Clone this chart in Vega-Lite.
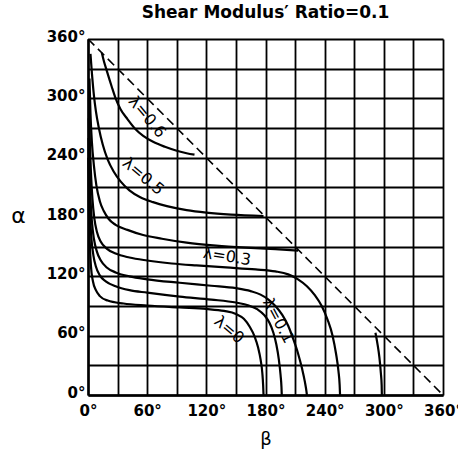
{
  "$schema": "https://vega.github.io/schema/vega-lite/v6.json",
  "width": 355,
  "height": 356,
  "autosize": {"type": "none"},
  "padding": {"left": 88, "top": 39, "right": 15, "bottom": 64},
  "background": "white",
  "title": {"text": "Shear Modulus′ Ratio=0.1", "fontSize": 17, "font": "DejaVu Sans", "fontWeight": "bold", "color": "black", "offset": 7, "anchor": "middle"},
  "config": {"view": {"stroke": null}},
  "resolve": {"axis": {"x": "independent", "y": "independent"}},
  "datasets": {
    "curves": [
      {"curve": "λ=0.6", "beta": 14, "alpha": 346}, {"curve": "λ=0.6", "beta": 16, "alpha": 338}, {"curve": "λ=0.6", "beta": 19, "alpha": 328}, {"curve": "λ=0.6", "beta": 24, "alpha": 312}, {"curve": "λ=0.6", "beta": 28, "alpha": 300}, {"curve": "λ=0.6", "beta": 33, "alpha": 289}, {"curve": "λ=0.6", "beta": 40, "alpha": 279}, {"curve": "λ=0.6", "beta": 48, "alpha": 269}, {"curve": "λ=0.6", "beta": 56, "alpha": 262}, {"curve": "λ=0.6", "beta": 66, "alpha": 256}, {"curve": "λ=0.6", "beta": 78, "alpha": 251}, {"curve": "λ=0.6", "beta": 90, "alpha": 247}, {"curve": "λ=0.6", "beta": 100, "alpha": 244.5}, {"curve": "λ=0.6", "beta": 108, "alpha": 243},
      {"curve": "λ=0.5", "beta": 2.5, "alpha": 345}, {"curve": "λ=0.5", "beta": 4, "alpha": 325}, {"curve": "λ=0.5", "beta": 6, "alpha": 303}, {"curve": "λ=0.5", "beta": 8, "alpha": 287}, {"curve": "λ=0.5", "beta": 11, "alpha": 270}, {"curve": "λ=0.5", "beta": 15, "alpha": 253}, {"curve": "λ=0.5", "beta": 20, "alpha": 238}, {"curve": "λ=0.5", "beta": 26, "alpha": 226}, {"curve": "λ=0.5", "beta": 33, "alpha": 216}, {"curve": "λ=0.5", "beta": 42, "alpha": 207}, {"curve": "λ=0.5", "beta": 53, "alpha": 200}, {"curve": "λ=0.5", "beta": 66, "alpha": 195}, {"curve": "λ=0.5", "beta": 80, "alpha": 191}, {"curve": "λ=0.5", "beta": 100, "alpha": 187}, {"curve": "λ=0.5", "beta": 120, "alpha": 184.5}, {"curve": "λ=0.5", "beta": 145, "alpha": 182.5}, {"curve": "λ=0.5", "beta": 178, "alpha": 181},
      {"curve": "λ=0.4", "beta": 1.5, "alpha": 320}, {"curve": "λ=0.4", "beta": 2.5, "alpha": 285}, {"curve": "λ=0.4", "beta": 4, "alpha": 255}, {"curve": "λ=0.4", "beta": 6, "alpha": 232}, {"curve": "λ=0.4", "beta": 8.5, "alpha": 212}, {"curve": "λ=0.4", "beta": 12, "alpha": 196}, {"curve": "λ=0.4", "beta": 16, "alpha": 186}, {"curve": "λ=0.4", "beta": 21, "alpha": 178}, {"curve": "λ=0.4", "beta": 28, "alpha": 172}, {"curve": "λ=0.4", "beta": 40, "alpha": 167}, {"curve": "λ=0.4", "beta": 55, "alpha": 162}, {"curve": "λ=0.4", "beta": 75, "alpha": 158}, {"curve": "λ=0.4", "beta": 100, "alpha": 154}, {"curve": "λ=0.4", "beta": 130, "alpha": 151}, {"curve": "λ=0.4", "beta": 160, "alpha": 149}, {"curve": "λ=0.4", "beta": 190, "alpha": 147.5}, {"curve": "λ=0.4", "beta": 213, "alpha": 146},
      {"curve": "λ=0.4b", "beta": 291.5, "alpha": 63}, {"curve": "λ=0.4b", "beta": 293.5, "alpha": 52}, {"curve": "λ=0.4b", "beta": 295.5, "alpha": 38}, {"curve": "λ=0.4b", "beta": 297, "alpha": 22}, {"curve": "λ=0.4b", "beta": 297.8, "alpha": 10}, {"curve": "λ=0.4b", "beta": 298, "alpha": 0},
      {"curve": "λ=0.3", "beta": 1, "alpha": 300}, {"curve": "λ=0.3", "beta": 1.8, "alpha": 260}, {"curve": "λ=0.3", "beta": 3, "alpha": 225}, {"curve": "λ=0.3", "beta": 4.5, "alpha": 198}, {"curve": "λ=0.3", "beta": 6.5, "alpha": 178}, {"curve": "λ=0.3", "beta": 9, "alpha": 165}, {"curve": "λ=0.3", "beta": 13, "alpha": 155}, {"curve": "λ=0.3", "beta": 19, "alpha": 148}, {"curve": "λ=0.3", "beta": 28, "alpha": 143}, {"curve": "λ=0.3", "beta": 42, "alpha": 139}, {"curve": "λ=0.3", "beta": 60, "alpha": 136}, {"curve": "λ=0.3", "beta": 85, "alpha": 133}, {"curve": "λ=0.3", "beta": 110, "alpha": 131}, {"curve": "λ=0.3", "beta": 140, "alpha": 129}, {"curve": "λ=0.3", "beta": 170, "alpha": 127}, {"curve": "λ=0.3", "beta": 190, "alpha": 125}, {"curve": "λ=0.3", "beta": 203, "alpha": 122}, {"curve": "λ=0.3", "beta": 213, "alpha": 117}, {"curve": "λ=0.3", "beta": 222, "alpha": 110}, {"curve": "λ=0.3", "beta": 230, "alpha": 101}, {"curve": "λ=0.3", "beta": 237, "alpha": 90}, {"curve": "λ=0.3", "beta": 243, "alpha": 76}, {"curve": "λ=0.3", "beta": 248, "alpha": 60}, {"curve": "λ=0.3", "beta": 251.5, "alpha": 42}, {"curve": "λ=0.3", "beta": 254, "alpha": 24}, {"curve": "λ=0.3", "beta": 255.2, "alpha": 10}, {"curve": "λ=0.3", "beta": 255.6, "alpha": 0},
      {"curve": "λ=0.2", "beta": 0.8, "alpha": 280}, {"curve": "λ=0.2", "beta": 1.5, "alpha": 235}, {"curve": "λ=0.2", "beta": 2.5, "alpha": 200}, {"curve": "λ=0.2", "beta": 4, "alpha": 175}, {"curve": "λ=0.2", "beta": 6, "alpha": 158}, {"curve": "λ=0.2", "beta": 9, "alpha": 145}, {"curve": "λ=0.2", "beta": 13, "alpha": 136}, {"curve": "λ=0.2", "beta": 19, "alpha": 129}, {"curve": "λ=0.2", "beta": 28, "alpha": 124}, {"curve": "λ=0.2", "beta": 42, "alpha": 120}, {"curve": "λ=0.2", "beta": 60, "alpha": 117}, {"curve": "λ=0.2", "beta": 93, "alpha": 113.5}, {"curve": "λ=0.2", "beta": 125, "alpha": 110.5}, {"curve": "λ=0.2", "beta": 150, "alpha": 108}, {"curve": "λ=0.2", "beta": 165, "alpha": 105}, {"curve": "λ=0.2", "beta": 175, "alpha": 101.5}, {"curve": "λ=0.2", "beta": 183, "alpha": 96.5}, {"curve": "λ=0.2", "beta": 190, "alpha": 90}, {"curve": "λ=0.2", "beta": 197, "alpha": 81}, {"curve": "λ=0.2", "beta": 203, "alpha": 70}, {"curve": "λ=0.2", "beta": 208, "alpha": 57}, {"curve": "λ=0.2", "beta": 213, "alpha": 42}, {"curve": "λ=0.2", "beta": 217, "alpha": 27}, {"curve": "λ=0.2", "beta": 220, "alpha": 13}, {"curve": "λ=0.2", "beta": 221.5, "alpha": 4}, {"curve": "λ=0.2", "beta": 222, "alpha": 0},
      {"curve": "λ=0.1", "beta": 0.6, "alpha": 260}, {"curve": "λ=0.1", "beta": 1.2, "alpha": 215}, {"curve": "λ=0.1", "beta": 2.2, "alpha": 180}, {"curve": "λ=0.1", "beta": 3.5, "alpha": 158}, {"curve": "λ=0.1", "beta": 5.5, "alpha": 141}, {"curve": "λ=0.1", "beta": 8, "alpha": 130}, {"curve": "λ=0.1", "beta": 12, "alpha": 121}, {"curve": "λ=0.1", "beta": 18, "alpha": 115}, {"curve": "λ=0.1", "beta": 28, "alpha": 110}, {"curve": "λ=0.1", "beta": 42, "alpha": 106}, {"curve": "λ=0.1", "beta": 60, "alpha": 103.5}, {"curve": "λ=0.1", "beta": 93, "alpha": 99.5}, {"curve": "λ=0.1", "beta": 125, "alpha": 96.5}, {"curve": "λ=0.1", "beta": 150, "alpha": 93.5}, {"curve": "λ=0.1", "beta": 163, "alpha": 90.5}, {"curve": "λ=0.1", "beta": 172, "alpha": 86.5}, {"curve": "λ=0.1", "beta": 179, "alpha": 80.5}, {"curve": "λ=0.1", "beta": 184, "alpha": 73}, {"curve": "λ=0.1", "beta": 188, "alpha": 63}, {"curve": "λ=0.1", "beta": 191, "alpha": 51}, {"curve": "λ=0.1", "beta": 193.5, "alpha": 36}, {"curve": "λ=0.1", "beta": 195.3, "alpha": 20}, {"curve": "λ=0.1", "beta": 196.2, "alpha": 8}, {"curve": "λ=0.1", "beta": 196.5, "alpha": 0},
      {"curve": "λ=0", "beta": 0.4, "alpha": 240}, {"curve": "λ=0", "beta": 0.9, "alpha": 190}, {"curve": "λ=0", "beta": 1.8, "alpha": 155}, {"curve": "λ=0", "beta": 3, "alpha": 130}, {"curve": "λ=0", "beta": 5, "alpha": 115}, {"curve": "λ=0", "beta": 8, "alpha": 106}, {"curve": "λ=0", "beta": 12, "alpha": 100}, {"curve": "λ=0", "beta": 20, "alpha": 95.5}, {"curve": "λ=0", "beta": 36, "alpha": 92.5}, {"curve": "λ=0", "beta": 60, "alpha": 90.5}, {"curve": "λ=0", "beta": 93, "alpha": 88.5}, {"curve": "λ=0", "beta": 120, "alpha": 87}, {"curve": "λ=0", "beta": 138, "alpha": 85}, {"curve": "λ=0", "beta": 150, "alpha": 82}, {"curve": "λ=0", "beta": 158, "alpha": 77}, {"curve": "λ=0", "beta": 164, "alpha": 69}, {"curve": "λ=0", "beta": 169, "alpha": 59}, {"curve": "λ=0", "beta": 172.5, "alpha": 48}, {"curve": "λ=0", "beta": 175, "alpha": 36}, {"curve": "λ=0", "beta": 176.8, "alpha": 22}, {"curve": "λ=0", "beta": 177.6, "alpha": 10}, {"curve": "λ=0", "beta": 178, "alpha": 0}
    ],
    "diagonal": [{"beta": 0, "alpha": 360}, {"beta": 360, "alpha": 0}],
    "labels": [
      {"text": "λ=0.6", "beta": 60, "alpha": 281},
      {"text": "λ=0.5", "beta": 56, "alpha": 221},
      {"text": "λ=0.3", "beta": 141, "alpha": 140},
      {"text": "λ=0", "beta": 143, "alpha": 66},
      {"text": "λ=0.1", "beta": 193, "alpha": 75}
    ]
  },
  "layer": [
    {
      "data": {"name": "diagonal"},
      "mark": {"type": "line", "color": "black", "strokeWidth": 1.6, "strokeDash": [9, 5]},
      "encoding": {
        "x": {"field": "beta", "type": "quantitative", "scale": {"domain": [0, 360], "nice": false},
          "axis": {"orient": "bottom", "values": [0, 30, 60, 90, 120, 150, 180, 210, 240, 270, 300, 330, 360], "grid": true, "gridColor": "black", "gridWidth": 1.8, "gridOpacity": 1, "domain": false, "ticks": false, "labels": false, "title": null}},
        "y": {"field": "alpha", "type": "quantitative", "scale": {"domain": [0, 360], "nice": false},
          "axis": {"orient": "left", "values": [0, 30, 60, 90, 120, 150, 180, 210, 240, 270, 300, 330, 360], "grid": true, "gridColor": "black", "gridWidth": 1.8, "gridOpacity": 1, "domain": false, "ticks": false, "labels": false, "title": null}}
      }
    },
    {
      "data": {"name": "curves"},
      "mark": {"type": "line", "color": "black", "strokeWidth": 2.2, "interpolate": "monotone"},
      "encoding": {
        "x": {"field": "beta", "type": "quantitative",
          "axis": {"orient": "bottom", "values": [0, 60, 120, 180, 240, 300, 360], "grid": false, "domain": true, "domainColor": "black", "domainWidth": 2.5, "ticks": false, "labelFlush": false, "labelExpr": "datum.value + '°'", "labelFontSize": 15, "labelFont": "DejaVu Sans", "labelFontWeight": "bold", "labelColor": "black", "labelPadding": 8, "labelOverlap": false, "title": "β", "titleFont": "DejaVu Sans", "titleFontSize": 18, "titleFontWeight": "normal", "titleColor": "black", "titleY": 44, "titleBaseline": "middle"}},
        "y": {"field": "alpha", "type": "quantitative",
          "axis": {"orient": "left", "values": [0, 60, 120, 180, 240, 300, 360], "grid": false, "domain": true, "domainColor": "black", "domainWidth": 2.5, "ticks": false, "labelFlush": false, "labelExpr": "datum.value + '°'", "labelFontSize": 15, "labelFont": "DejaVu Sans", "labelFontWeight": "bold", "labelColor": "black", "labelPadding": 3, "labelOverlap": false, "labelOffset": -3, "title": "α", "titleFont": "DejaVu Sans", "titleFontSize": 22, "titleFontWeight": "normal", "titleColor": "black", "titleAngle": 0, "titleX": -70, "titleY": 176, "titleAlign": "center", "titleBaseline": "middle"}},
        "detail": {"field": "curve", "type": "nominal"}
      }
    },
    {
      "data": {"name": "labels"},
      "transform": [{"filter": "datum.text == 'λ=0.6'"}],
      "mark": {"type": "text", "angle": 50, "fontSize": 16, "font": "DejaVu Sans", "color": "black"},
      "encoding": {"x": {"field": "beta", "type": "quantitative", "axis": null}, "y": {"field": "alpha", "type": "quantitative", "axis": null}, "text": {"field": "text"}}
    },
    {
      "data": {"name": "labels"},
      "transform": [{"filter": "datum.text == 'λ=0.5'"}],
      "mark": {"type": "text", "angle": 40, "fontSize": 16, "font": "DejaVu Sans", "color": "black"},
      "encoding": {"x": {"field": "beta", "type": "quantitative", "axis": null}, "y": {"field": "alpha", "type": "quantitative", "axis": null}, "text": {"field": "text"}}
    },
    {
      "data": {"name": "labels"},
      "transform": [{"filter": "datum.text == 'λ=0.3'"}],
      "mark": {"type": "text", "angle": 9, "fontSize": 16, "font": "DejaVu Sans", "color": "black"},
      "encoding": {"x": {"field": "beta", "type": "quantitative", "axis": null}, "y": {"field": "alpha", "type": "quantitative", "axis": null}, "text": {"field": "text"}}
    },
    {
      "data": {"name": "labels"},
      "transform": [{"filter": "datum.text == 'λ=0'"}],
      "mark": {"type": "text", "angle": 40, "fontSize": 16, "font": "DejaVu Sans", "color": "black"},
      "encoding": {"x": {"field": "beta", "type": "quantitative", "axis": null}, "y": {"field": "alpha", "type": "quantitative", "axis": null}, "text": {"field": "text"}}
    },
    {
      "data": {"name": "labels"},
      "transform": [{"filter": "datum.text == 'λ=0.1'"}],
      "mark": {"type": "text", "angle": 62, "fontSize": 16, "font": "DejaVu Sans", "color": "black"},
      "encoding": {"x": {"field": "beta", "type": "quantitative", "axis": null}, "y": {"field": "alpha", "type": "quantitative", "axis": null}, "text": {"field": "text"}}
    }
  ]
}
